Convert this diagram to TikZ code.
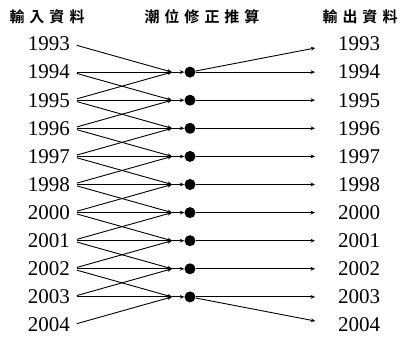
\documentclass[tikz,border=0pt]{standalone}
\usepackage{fontspec}
\setmainfont{Liberation Serif}
\newfontfamily\cjk{Noto Sans CJK TC Bold}
\usetikzlibrary{arrows.meta}
\newcommand{\gap}{\hspace{5pt}}
\begin{document}
\begin{tikzpicture}[x=1pt,y=-1pt,
  year/.style={font=\fontsize{21}{21}\selectfont, inner sep=2pt},
  head/.style={font=\cjk\fontsize{15}{15}\selectfont, inner sep=0pt},
  link/.style={line width=0.9pt, -{Stealth[length=4.5pt,width=3.8pt]}},
  hubdot/.style={circle, fill=black, minimum size=11pt, inner sep=0pt}]
\useasboundingbox (0,0) rectangle (401,340);

% column headings
\node[head] (hin)  at (47,17)  {輸\gap 入\gap 資\gap 料};
\node[head] (hmid) at (202,17) {潮\gap 位\gap 修\gap 正\gap 推\gap 算};
\node[head] (hout) at (360,17) {輸\gap 出\gap 資\gap 料};

% input and output years
\foreach \yr [count=\i from 0] in {1993,1994,1995,1996,1997,1998,2000,2001,2002,2003,2004} {
  \node[year, anchor=east] (in\i)  at (72, 44+28.1*\i)  {\yr};
  \node[year, anchor=west] (out\i) at (336, 44+28.1*\i) {\yr};
}

% correction hubs: each takes the year itself and its two neighbours
\foreach \i in {1,...,9} {
  \coordinate (hub\i) at (172, 44+28.1*\i);
  \node[hubdot] (dot\i) at (190, 44+28.1*\i) {};
}
\foreach \i in {1,...,9} {
  \pgfmathtruncatemacro{\prev}{\i-1}
  \pgfmathtruncatemacro{\next}{\i+1}
  \draw[link, shorten <=5pt] (in\prev.east) -- (hub\i);
  \draw[link, shorten <=5pt] (in\i.east) -- (hub\i);
  \draw[link, shorten <=5pt] (in\next.east) -- (hub\i);
  \draw[link] (hub\i) -- (dot\i);
  \draw[link, shorten >=21pt] (dot\i) -- (out\i.west);
}
% end years take the result of the nearest hub
\draw[link, shorten >=21pt] (dot1) -- (out0.west);
\draw[link, shorten >=21pt] (dot9) -- (out10.west);
\end{tikzpicture}
\end{document}
